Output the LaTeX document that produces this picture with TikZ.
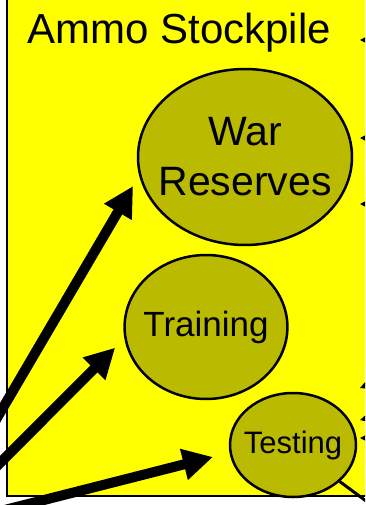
\documentclass[tikz,border=0pt]{standalone}
\usepackage{fontspec}
\setmainfont{Liberation Sans}
\usetikzlibrary{positioning, arrows.meta, shapes.geometric}
\definecolor{stockyellow}{RGB}{255,255,0}
\definecolor{stockolive}{RGB}{186,186,0}

\begin{document}
\begin{tikzpicture}[x=1pt, y=-1pt,
    pool/.style={ellipse, draw, fill=stockolive, line width=2.5pt, inner ysep=0pt, align=center},
    feed/.style={-{Triangle[length=30pt, width=30pt]}, line width=10pt},
    drain/.style={-{Triangle[length=7pt, width=7pt]}, line width=1pt}
]
    \useasboundingbox (0,0) rectangle (365,505);
    \clip (0,0) rectangle (365,505);

    % Stockpile box
    \draw[fill=stockyellow, line width=2pt] (7,-20) rectangle (390,496);
    \node[anchor=base west, font=\fontsize{42}{50}\selectfont] (title) at (24,44) {Ammo Stockpile};

    % Pools
    \node[pool, inner xsep=-11pt, minimum width=214pt, minimum height=176pt, font=\fontsize{41}{50}\selectfont] (warres) at (245,157) {War\\Reserves};
    \node[pool, inner xsep=-5pt, minimum width=162pt, minimum height=144pt, font=\fontsize{35}{42}\selectfont] (training) at (206,327) {Training};
    \node[pool, inner xsep=-6pt, minimum width=126pt, minimum height=104pt, font=\fontsize{31}{38}\selectfont] (testing) at (293,445) {Testing};

    % Incoming arrows
    \coordinate (inwar) at (-20,447);
    \coordinate (intrain) at (-20,483);
    \coordinate (intest) at (-15,515);
    \draw[feed, shorten >=12pt] (inwar) -- (warres.190);
    \draw[feed, shorten >=13pt] (intrain) -- (training.188);
    \draw[feed, shorten >=17pt] (intest) -- (testing.187);

    % Outgoing links at the right edge
    \foreach \y/\dy in {40/0, 138/0, 204/0, 388/-8, 420/-5, 438/0} {
        \coordinate (tip\y) at (360,\y);
        \coordinate (far\y) at (380,\y+\dy);
        \draw[drain] (far\y) -- (tip\y);
    }
    \coordinate (outlink) at (385,515);
    \draw[line width=3pt] (testing.-38) -- (outlink);
\end{tikzpicture}
\end{document}
